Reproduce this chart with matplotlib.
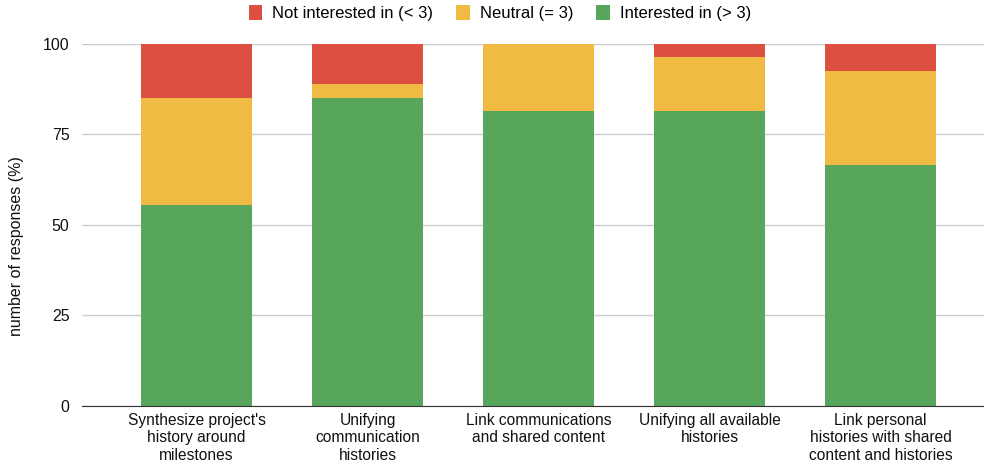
import matplotlib
matplotlib.use("Agg")
import matplotlib.pyplot as plt
import numpy as np

categories = [
    "Synthesize project's\nhistory around\nmilestones",
    "Unifying\ncommunication\nhistories",
    "Link communications\nand shared content",
    "Unifying all available\nhistories",
    "Link personal\nhistories with shared\ncontent and histories",
]
interested = [55.6, 85.2, 81.5, 81.5, 66.7]
neutral = [29.6, 3.7, 18.5, 14.8, 25.9]
not_interested = [14.8, 11.1, 0.0, 3.7, 7.4]

series_names = ["Not interested in (< 3)", "Neutral (= 3)", "Interested in (> 3)"]
colors = {"red": "#DB5040", "yellow": "#F1BA42", "green": "#58A65C"}

plt.rcParams["font.family"] = ["Liberation Sans", "DejaVu Sans"]

fig = plt.figure(figsize=(9.84, 4.68), dpi=100)
ax = fig.add_axes([0.0833, 0.1325, 0.9167, 0.7735])

x = np.arange(len(categories))
w = 0.65
g = ax.bar(x, interested, w, color=colors["green"], label=series_names[2], zorder=3)
y = ax.bar(x, neutral, w, bottom=interested, color=colors["yellow"], label=series_names[1], zorder=3)
bottom2 = np.array(interested) + np.array(neutral)
r = ax.bar(x, not_interested, w, bottom=bottom2, color=colors["red"], label=series_names[0], zorder=3)

ax.set_xlim(-0.67, 4.605)
ax.set_ylim(0, 100)
ax.set_yticks([0, 25, 50, 75, 100])
ax.yaxis.grid(True, color="#cccccc", linewidth=1, zorder=0)
ax.set_axisbelow(True)
for s in ["top", "right", "left"]:
    ax.spines[s].set_visible(False)
ax.spines["bottom"].set_color("#333333")
ax.spines["bottom"].set_zorder(4)
ax.tick_params(axis="both", length=0, labelsize=11.5, colors="#111111")
ax.tick_params(axis="y", pad=9)
ax.tick_params(axis="x", pad=5)
ax.set_xticks(x)
ax.set_xticklabels(categories, linespacing=1.2, fontsize=11.2)

# y label placed by hand, a bit below the axes centre as in the original
fig.text(0.017, 0.474, "number of responses (%)", rotation=90, ha="center",
         va="center", fontsize=11.5, color="#111111")

fig.legend(handles=[r, y, g], labels=series_names, loc="center",
           bbox_to_anchor=(0.508, 0.972), ncol=3, frameon=False, fontsize=12,
           handlelength=0.8, handleheight=1.0, handletextpad=0.6, columnspacing=1.4,
           borderpad=0)

fig.savefig("out.png", dpi=100)
